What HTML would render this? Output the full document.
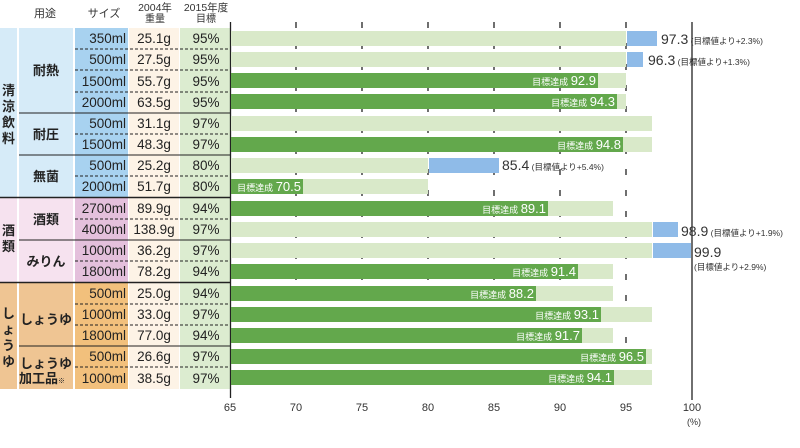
<!DOCTYPE html>
<html><head><meta charset="utf-8"><style>
html,body{margin:0;padding:0;background:#fff;}
svg{display:block;font-family:"Liberation Sans","Noto Sans CJK JP",sans-serif;}
</style></head><body>
<svg width="800" height="448" viewBox="0 0 800 448" xmlns="http://www.w3.org/2000/svg">
<!-- header -->
<g font-size="11" fill="#333" text-anchor="middle">
<text x="45" y="17">用途</text>
<text x="104" y="17">サイズ</text>
<text x="155" y="11" font-size="10.5">2004年</text>
<text x="155" y="22" font-size="10">重量</text>
<text x="206" y="11" font-size="10.5">2015年度</text>
<text x="206" y="22" font-size="10">目標</text>
</g>
<!-- column backgrounds -->
<rect x="0" y="28" width="17" height="169" fill="#d6ebf8"/>
<rect x="19" y="28" width="54" height="169" fill="#d6ebf8"/>
<rect x="75" y="28" width="53" height="169" fill="#a8d2f0"/>
<rect x="0" y="198" width="17" height="84" fill="#f6e2ef"/>
<rect x="19" y="198" width="54" height="84" fill="#f6e2ef"/>
<rect x="75" y="198" width="53" height="84" fill="#e4c0dc"/>
<rect x="0" y="283" width="17" height="106" fill="#efc593"/>
<rect x="19" y="283" width="54" height="106" fill="#efc593"/>
<rect x="75" y="283" width="53" height="106" fill="#f2c07c"/>
<rect x="129" y="28" width="50" height="361" fill="#fdf3e6"/>
<rect x="180" y="28" width="50" height="361" fill="#dcecd0"/>
<!-- group/category text -->
<g font-size="13" fill="#222" font-weight="bold" text-anchor="middle">
<text x="8.5" y="95">清</text><text x="8.5" y="111">涼</text><text x="8.5" y="127">飲</text><text x="8.5" y="143">料</text>
<text x="8.5" y="235">酒</text><text x="8.5" y="251">類</text>
<text x="8.5" y="318">し</text><text x="8.5" y="334">ょ</text><text x="8.5" y="350">う</text><text x="8.5" y="366">ゆ</text>
<text x="46" y="75">耐熱</text>
<text x="46" y="139">耐圧</text>
<text x="46" y="181">無菌</text>
<text x="46" y="224">酒類</text>
<text x="46" y="266">みりん</text>
<text x="46" y="324">しょうゆ</text>
<text x="46" y="368">しょうゆ</text>
<text x="42" y="383">加工品<tspan font-size="7">※</tspan></text>
</g>
<!-- table rows text -->
<g font-size="13.5" fill="#222">
<g text-anchor="end">
<text x="126" y="43">350ml</text><text x="126" y="64">500ml</text><text x="126" y="86">1500ml</text><text x="126" y="107">2000ml</text>
<text x="126" y="128">500ml</text><text x="126" y="149">1500ml</text><text x="126" y="170">500ml</text><text x="126" y="191">2000ml</text>
<text x="126" y="213">2700ml</text><text x="126" y="234">4000ml</text><text x="126" y="255">1000ml</text><text x="126" y="276">1800ml</text>
<text x="126" y="298">500ml</text><text x="126" y="319">1000ml</text><text x="126" y="340">1800ml</text><text x="126" y="361">500ml</text><text x="126" y="383">1000ml</text>
</g>
<g text-anchor="middle">
<text x="154" y="43">25.1g</text><text x="154" y="64">27.5g</text><text x="154" y="86">55.7g</text><text x="154" y="107">63.5g</text>
<text x="154" y="128">31.1g</text><text x="154" y="149">48.3g</text><text x="154" y="170">25.2g</text><text x="154" y="191">51.7g</text>
<text x="154" y="213">89.9g</text><text x="154" y="234">138.9g</text><text x="154" y="255">36.2g</text><text x="154" y="276">78.2g</text>
<text x="154" y="298">25.0g</text><text x="154" y="319">33.0g</text><text x="154" y="340">77.0g</text><text x="154" y="361">26.6g</text><text x="154" y="383">38.5g</text>
<text x="206" y="43">95%</text><text x="206" y="64">95%</text><text x="206" y="86">95%</text><text x="206" y="107">95%</text>
<text x="206" y="128">97%</text><text x="206" y="149">97%</text><text x="206" y="170">80%</text><text x="206" y="191">80%</text>
<text x="206" y="213">94%</text><text x="206" y="234">97%</text><text x="206" y="255">97%</text><text x="206" y="276">94%</text>
<text x="206" y="298">94%</text><text x="206" y="319">97%</text><text x="206" y="340">94%</text><text x="206" y="361">97%</text><text x="206" y="383">97%</text>
</g>
</g>
<!-- row separators -->
<g stroke="#222" stroke-width="1">
<g stroke-dasharray="3,2">
<line x1="75" y1="49" x2="230" y2="49"/><line x1="75" y1="70" x2="230" y2="70"/><line x1="75" y1="92" x2="230" y2="92"/>
<line x1="75" y1="134" x2="230" y2="134"/><line x1="75" y1="176" x2="230" y2="176"/>
<line x1="75" y1="219" x2="230" y2="219"/><line x1="75" y1="261" x2="230" y2="261"/>
<line x1="75" y1="304" x2="230" y2="304"/><line x1="75" y1="325" x2="230" y2="325"/><line x1="75" y1="367" x2="230" y2="367"/>
</g>
<line x1="19" y1="113" x2="230" y2="113"/><line x1="19" y1="155" x2="230" y2="155"/>
<line x1="19" y1="240" x2="230" y2="240"/><line x1="19" y1="346" x2="230" y2="346"/>
<line x1="0" y1="197.5" x2="230" y2="197.5" stroke-width="1.5"/><line x1="0" y1="282.5" x2="230" y2="282.5" stroke-width="1.5"/>
</g>
<!-- grid -->
<g stroke="#222" stroke-width="1.3">
<g stroke-dasharray="6,15">
<line x1="296" y1="22" x2="296" y2="400"/><line x1="362" y1="22" x2="362" y2="400"/><line x1="428" y1="22" x2="428" y2="400"/>
<line x1="494" y1="22" x2="494" y2="400"/><line x1="560" y1="22" x2="560" y2="400"/><line x1="626" y1="22" x2="626" y2="400"/>
</g>
<line x1="230.5" y1="22" x2="230.5" y2="398"/>
<line x1="692" y1="22" x2="692" y2="400"/>
</g>
<!-- bars -->
<g>
<rect x="231" y="31" width="395" height="15" fill="#d9e9c9"/><rect x="627" y="31" width="30" height="15" fill="#8fbbe8"/>
<rect x="231" y="52" width="395" height="15" fill="#d9e9c9"/><rect x="627" y="52" width="16" height="15" fill="#8fbbe8"/>
<rect x="231" y="73" width="395" height="15" fill="#d9e9c9"/><rect x="231" y="73" width="367" height="15" fill="#63a84c"/>
<rect x="231" y="94" width="395" height="15" fill="#d9e9c9"/><rect x="231" y="94" width="386" height="15" fill="#63a84c"/>
<rect x="231" y="116" width="421" height="15" fill="#d9e9c9"/>
<rect x="231" y="137" width="421" height="15" fill="#d9e9c9"/><rect x="231" y="137" width="392" height="15" fill="#63a84c"/>
<rect x="231" y="158" width="197" height="15" fill="#d9e9c9"/><rect x="429" y="158" width="70" height="15" fill="#8fbbe8"/>
<rect x="231" y="179" width="197" height="15" fill="#d9e9c9"/><rect x="231" y="179" width="72" height="15" fill="#63a84c"/>
<rect x="231" y="201" width="382" height="15" fill="#d9e9c9"/><rect x="231" y="201" width="317" height="15" fill="#63a84c"/>
<rect x="231" y="222" width="421" height="15" fill="#d9e9c9"/><rect x="653" y="222" width="25" height="15" fill="#8fbbe8"/>
<rect x="231" y="243" width="421" height="15" fill="#d9e9c9"/><rect x="653" y="243" width="38" height="15" fill="#8fbbe8"/>
<rect x="231" y="264" width="382" height="15" fill="#d9e9c9"/><rect x="231" y="264" width="347" height="15" fill="#63a84c"/>
<rect x="231" y="286" width="382" height="15" fill="#d9e9c9"/><rect x="231" y="286" width="305" height="15" fill="#63a84c"/>
<rect x="231" y="307" width="421" height="15" fill="#d9e9c9"/><rect x="231" y="307" width="370" height="15" fill="#63a84c"/>
<rect x="231" y="328" width="382" height="15" fill="#d9e9c9"/><rect x="231" y="328" width="351" height="15" fill="#63a84c"/>
<rect x="231" y="349" width="421" height="15" fill="#d9e9c9"/><rect x="231" y="349" width="415" height="15" fill="#63a84c"/>
<rect x="231" y="370" width="421" height="15" fill="#d9e9c9"/><rect x="231" y="370" width="383" height="15" fill="#63a84c"/>
</g>
<!-- achieved labels -->
<g fill="#fff" text-anchor="end" font-size="13">
<text x="596" y="85"><tspan font-size="9">目標達成 </tspan>92.9</text>
<text x="615" y="106"><tspan font-size="9">目標達成 </tspan>94.3</text>
<text x="621" y="149"><tspan font-size="9">目標達成 </tspan>94.8</text>
<text x="301" y="191"><tspan font-size="9">目標達成 </tspan>70.5</text>
<text x="546" y="213"><tspan font-size="9">目標達成 </tspan>89.1</text>
<text x="576" y="276"><tspan font-size="9">目標達成 </tspan>91.4</text>
<text x="534" y="298"><tspan font-size="9">目標達成 </tspan>88.2</text>
<text x="599" y="319"><tspan font-size="9">目標達成 </tspan>93.1</text>
<text x="580" y="340"><tspan font-size="9">目標達成 </tspan>91.7</text>
<text x="644" y="361"><tspan font-size="9">目標達成 </tspan>96.5</text>
<text x="612" y="382"><tspan font-size="9">目標達成 </tspan>94.1</text>
</g>
<!-- exceeded labels -->
<g fill="#333" font-size="14">
<text x="661" y="44">97.3<tspan font-size="8.5"> (目標値より+2.3%)</tspan></text>
<text x="648" y="65">96.3<tspan font-size="8.5"> (目標値より+1.3%)</tspan></text>
<text x="502" y="170">85.4<tspan font-size="8.5"> (目標値より+5.4%)</tspan></text>
<text x="681" y="236">98.9<tspan font-size="8.5"> (目標値より+1.9%)</tspan></text>
<text x="694" y="257">99.9</text>
<text x="694" y="270" font-size="8.5">(目標値より+2.9%)</text>
</g>
<!-- axis labels -->
<g fill="#333" font-size="11" text-anchor="middle">
<text x="230" y="411">65</text><text x="296" y="411">70</text><text x="362" y="411">75</text><text x="428" y="411">80</text>
<text x="494" y="411">85</text><text x="560" y="411">90</text><text x="626" y="411">95</text><text x="692" y="411">100</text>
<text x="694" y="425" font-size="9">(%)</text>
</g>
</svg>
</body></html>
